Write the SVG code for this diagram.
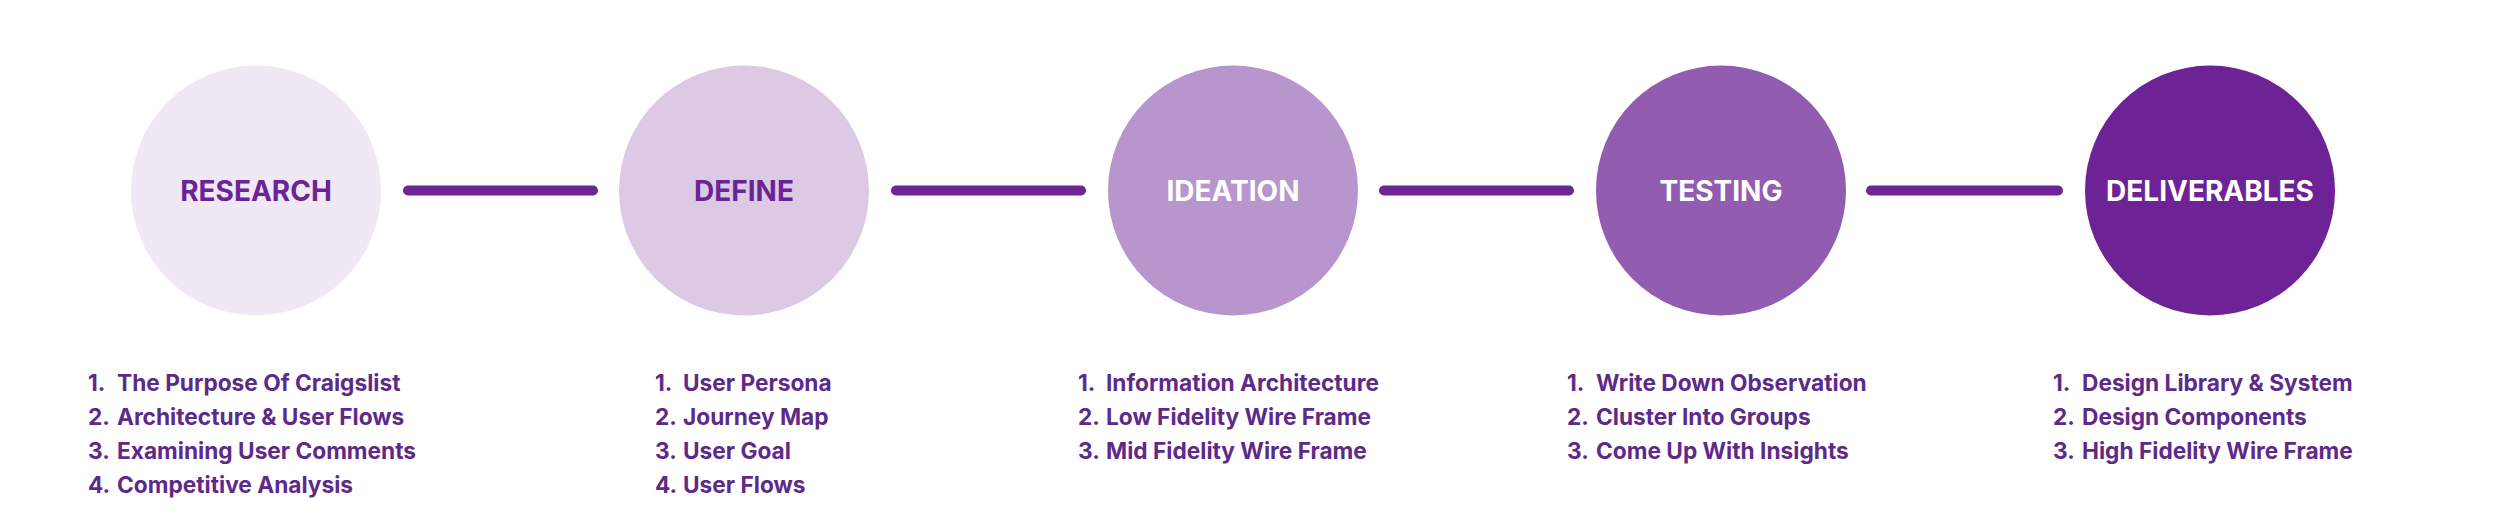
<svg xmlns="http://www.w3.org/2000/svg" width="2500" height="524" viewBox="0 0 2500 524">
<style>
.lbl{font-family:Inter,"Liberation Sans",sans-serif;font-weight:700;font-size:28px;text-anchor:middle;dominant-baseline:central}
.dark{fill:#6B2496}
.light{fill:#FFFFFF}
.item{font-family:Inter,"Liberation Sans",sans-serif;font-weight:700;font-size:22.7px;fill:#5E2A8A}
.conn{stroke:#6D2596;stroke-width:10;stroke-linecap:round;fill:none}
</style>
<rect width="2500" height="524" fill="#FFFFFF"/>
<g id="connectors">
<line class="conn" x1="408" y1="190.5" x2="593" y2="190.5"/>
<line class="conn" x1="896" y1="190.5" x2="1081" y2="190.5"/>
<line class="conn" x1="1384" y1="190.5" x2="1569" y2="190.5"/>
<line class="conn" x1="1871" y1="190.5" x2="2058" y2="190.5"/>
</g>
<g id="research">
<circle cx="256" cy="190.5" r="125" fill="#F0E8F5"/>
<text class="lbl dark" x="256" y="191">RESEARCH</text>
<g class="item">
<text x="88" y="391">1.</text><text x="117" y="391">The Purpose Of Craigslist</text>
<text x="88" y="425">2.</text><text x="117" y="425">Architecture &amp; User Flows</text>
<text x="88" y="459">3.</text><text x="117" y="459">Examining User Comments</text>
<text x="88" y="493">4.</text><text x="117" y="493">Competitive Analysis</text>
</g>
</g>
<g id="define">
<circle cx="744" cy="190.5" r="125" fill="#DCCAE5"/>
<text class="lbl dark" x="744" y="191">DEFINE</text>
<g class="item">
<text x="655" y="391">1.</text><text x="683" y="391">User Persona</text>
<text x="655" y="425">2.</text><text x="683" y="425">Journey Map</text>
<text x="655" y="459">3.</text><text x="683" y="459">User Goal</text>
<text x="655" y="493">4.</text><text x="683" y="493">User Flows</text>
</g>
</g>
<g id="ideation">
<circle cx="1233" cy="190.5" r="125" fill="#B895CD"/>
<text class="lbl light" x="1233" y="191">IDEATION</text>
<g class="item">
<text x="1078" y="391">1.</text><text x="1106" y="391">Information Architecture</text>
<text x="1078" y="425">2.</text><text x="1106" y="425">Low Fidelity Wire Frame</text>
<text x="1078" y="459">3.</text><text x="1106" y="459">Mid Fidelity Wire Frame</text>
</g>
</g>
<g id="testing">
<circle cx="1721" cy="190.5" r="125" fill="#925CB0"/>
<text class="lbl light" x="1721" y="191">TESTING</text>
<g class="item">
<text x="1567" y="391">1.</text><text x="1596" y="391">Write Down Observation</text>
<text x="1567" y="425">2.</text><text x="1596" y="425">Cluster Into Groups</text>
<text x="1567" y="459">3.</text><text x="1596" y="459">Come Up With Insights</text>
</g>
</g>
<g id="deliverables">
<circle cx="2210" cy="190.5" r="125" fill="#6D2396"/>
<text class="lbl light" x="2210" y="191">DELIVERABLES</text>
<g class="item">
<text x="2053" y="391">1.</text><text x="2082" y="391">Design Library &amp; System</text>
<text x="2053" y="425">2.</text><text x="2082" y="425">Design Components</text>
<text x="2053" y="459">3.</text><text x="2082" y="459">High Fidelity Wire Frame</text>
</g>
</g>
</svg>
